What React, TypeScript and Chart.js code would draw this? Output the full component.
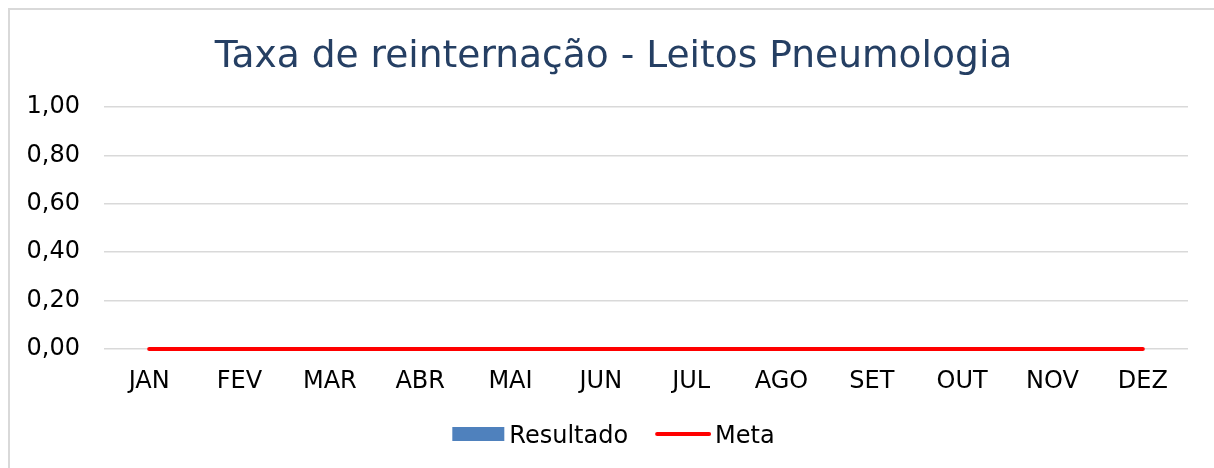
import React, { useEffect, useRef } from "react";
import { Chart, registerables } from "chart.js";

Chart.register(...registerables);

const categories = ["JAN", "FEV", "MAR", "ABR", "MAI", "JUN", "JUL", "AGO", "SET", "OUT", "NOV", "DEZ"];
const resultado = [0, 0, 0, 0, 0, 0, 0, 0, 0, 0, 0, 0];
const meta = [0, 0, 0, 0, 0, 0, 0, 0, 0, 0, 0, 0];
const yTicks = [0, 0.2, 0.4, 0.6, 0.8, 1.0];
const titleText = "Taxa de reinternação - Leitos Pneumologia";
const seriesNames = ["Resultado", "Meta"];

const FONT = "'DejaVu Sans', Verdana, sans-serif";
const BLUE = "#4F81BD";
const RED = "#FF0000";

const titleAndLegend = {
  id: "titleAndLegend",
  afterDraw(chart: any) {
    const ctx = chart.ctx as CanvasRenderingContext2D;
    const cx = 613.5;
    ctx.save();
    // title
    ctx.font = `37.6px ${FONT}`;
    ctx.fillStyle = "#253F63";
    ctx.textAlign = "center";
    ctx.textBaseline = "alphabetic";
    ctx.fillText(titleText, cx, 67);

    // legend
    ctx.font = `24px ${FONT}`;
    ctx.textAlign = "left";
    const w0 = ctx.measureText(seriesNames[0]).width;
    const w1 = ctx.measureText(seriesNames[1]).width;
    const boxW = 52;
    const lineW = 52;
    const total = boxW + 5 + w0 + 27 + 2 + lineW + 2 + 4 + w1;
    let x = cx - total / 2;
    const baseline = 443;
    ctx.fillStyle = BLUE;
    ctx.fillRect(x, 427, boxW, 14);
    x += boxW + 5;
    ctx.fillStyle = "#000000";
    ctx.fillText(seriesNames[0], x, baseline);
    x += w0 + 27 + 2;
    ctx.strokeStyle = RED;
    ctx.lineWidth = 4;
    ctx.lineCap = "round";
    ctx.beginPath();
    ctx.moveTo(x, 434);
    ctx.lineTo(x + lineW, 434);
    ctx.stroke();
    x += lineW + 2 + 4;
    ctx.fillStyle = "#000000";
    ctx.fillText(seriesNames[1], x, baseline);
    ctx.restore();
  },
};

export default function App() {
  const ref = useRef<HTMLCanvasElement>(null);

  useEffect(() => {
    document.body.style.margin = "0";
    const ctx = ref.current!.getContext("2d")!;
    const chart = new Chart(ctx, {
      type: "bar",
      data: {
        labels: categories,
        datasets: [
          {
            type: "bar",
            label: seriesNames[0],
            data: resultado,
            backgroundColor: BLUE,
            order: 2,
          },
          {
            type: "line",
            label: seriesNames[1],
            data: meta,
            borderColor: RED,
            backgroundColor: RED,
            borderWidth: 4,
            borderCapStyle: "round",
            pointRadius: 0,
            clip: false,
            order: 1,
          },
        ],
      },
      options: {
        animation: false,
        responsive: true,
        maintainAspectRatio: false,
        layout: { padding: { left: 10, right: 26, top: 107, bottom: 64 } },
        plugins: {
          title: { display: false },
          legend: { display: false },
          tooltip: { enabled: false },
        },
        scales: {
          x: {
            grid: { display: false },
            border: { display: false },
            afterFit: (s: any) => {
              s.height = 55;
            },
            ticks: { font: { family: FONT, size: 24 }, color: "#000000", padding: 10, maxRotation: 0 },
          },
          y: {
            min: 0,
            max: 1,
            afterBuildTicks: (s: any) => {
              s.ticks = yTicks.map((v) => ({ value: v }));
            },
            afterFit: (s: any) => {
              s.width = 94;
            },
            grid: { color: "#D9D9D9", lineWidth: 1.5, drawTicks: false },
            border: { display: false },
            ticks: {
              font: { family: FONT, size: 24 },
              color: "#000000",
              padding: 24,
              callback: (v: any) => Number(v).toFixed(2).replace(".", ","),
            },
          },
        },
      },
      plugins: [titleAndLegend],
    });
    return () => chart.destroy();
  }, []);

  return (
    <div style={{ position: "fixed", left: 0, top: 0, width: 1214, height: 468, background: "#fff" }}>
      <div
        style={{
          position: "absolute",
          left: 8,
          top: 8,
          width: 1206,
          height: 460,
          borderTop: "2px solid #D9D9D9",
          borderLeft: "2px solid #D9D9D9",
          boxSizing: "border-box",
        }}
      />
      <canvas ref={ref} style={{ position: "absolute", left: 0, top: 0, width: 1214, height: 468 }} />
    </div>
  );
}
